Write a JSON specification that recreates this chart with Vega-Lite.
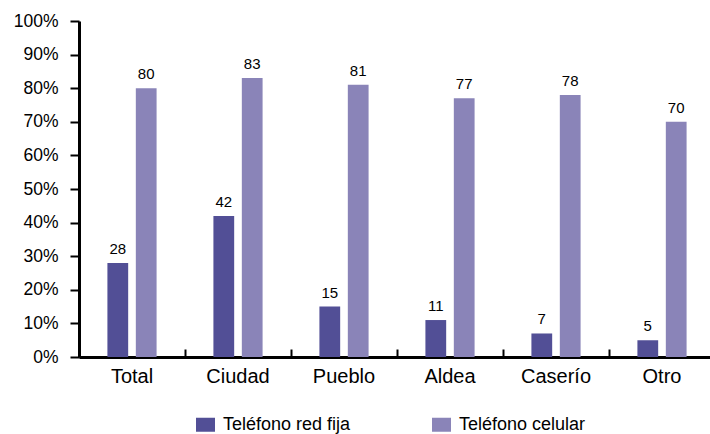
{
  "$schema": "https://vega.github.io/schema/vega-lite/v6.json",
  "width": 631,
  "height": 336,
  "autosize": {"type": "none"},
  "padding": {"left": 79, "top": 21, "right": 0, "bottom": 77},
  "background": "white",
  "config": {
    "view": {"stroke": null},
    "font": "Liberation Sans"
  },
  "data": {
    "values": [
      {"area": "Total", "tipo": "Teléfono red fija", "pct": 28},
      {"area": "Total", "tipo": "Teléfono celular", "pct": 80},
      {"area": "Ciudad", "tipo": "Teléfono red fija", "pct": 42},
      {"area": "Ciudad", "tipo": "Teléfono celular", "pct": 83},
      {"area": "Pueblo", "tipo": "Teléfono red fija", "pct": 15},
      {"area": "Pueblo", "tipo": "Teléfono celular", "pct": 81},
      {"area": "Aldea", "tipo": "Teléfono red fija", "pct": 11},
      {"area": "Aldea", "tipo": "Teléfono celular", "pct": 77},
      {"area": "Caserío", "tipo": "Teléfono red fija", "pct": 7},
      {"area": "Caserío", "tipo": "Teléfono celular", "pct": 78},
      {"area": "Otro", "tipo": "Teléfono red fija", "pct": 5},
      {"area": "Otro", "tipo": "Teléfono celular", "pct": 70}
    ]
  },
  "encoding": {
    "x": {
      "field": "area",
      "type": "nominal",
      "sort": ["Total", "Ciudad", "Pueblo", "Aldea", "Caserío", "Otro"],
      "scale": {"range": [0, 636], "paddingInner": 0, "paddingOuter": 0},
      "axis": {
        "title": null,
        "labelAngle": 0,
        "bandPosition": 0,
        "tickSize": -8,
        "tickWidth": 2,
        "tickColor": "black",
        "domainColor": "black",
        "domainWidth": 3,
        "labelFontSize": 20,
        "labelColor": "black",
        "labelPadding": 17,
        "grid": false
      }
    },
    "xOffset": {
      "field": "tipo",
      "type": "nominal",
      "sort": ["Teléfono red fija", "Teléfono celular"],
      "scale": {"paddingInner": 0.269, "paddingOuter": 1.173}
    },
    "y": {
      "field": "pct",
      "type": "quantitative",
      "scale": {"domain": [0, 100]},
      "axis": {
        "title": null,
        "values": [0, 10, 20, 30, 40, 50, 60, 70, 80, 90, 100],
        "labelExpr": "datum.value + '%'",
        "tickSize": 9,
        "tickWidth": 2,
        "tickColor": "black",
        "domainColor": "black",
        "domainWidth": 3,
        "labelFontSize": 17.5,
        "labelColor": "black",
        "labelPadding": 12,
        "grid": false
      }
    }
  },
  "layer": [
    {
      "mark": {"type": "bar"},
      "encoding": {
        "color": {
          "field": "tipo",
          "type": "nominal",
          "sort": ["Teléfono red fija", "Teléfono celular"],
          "scale": {
            "domain": ["Teléfono red fija", "Teléfono celular"],
            "range": ["#524f96", "#8a84b8"]
          },
          "legend": {
            "title": null,
            "orient": "none",
            "direction": "horizontal",
            "legendX": 117,
            "legendY": 394,
            "symbolType": "M-1,-0.737H1V0.737H-1Z",
            "symbolSize": 361,
            "symbolStrokeWidth": 0,
            "labelFontSize": 18,
            "labelColor": "black",
            "labelOffset": 8,
            "columnPadding": 81
          }
        }
      }
    },
    {
      "mark": {"type": "text", "baseline": "alphabetic", "dy": -9, "fontSize": 15, "color": "black"},
      "encoding": {"text": {"field": "pct", "type": "quantitative"}}
    }
  ]
}
